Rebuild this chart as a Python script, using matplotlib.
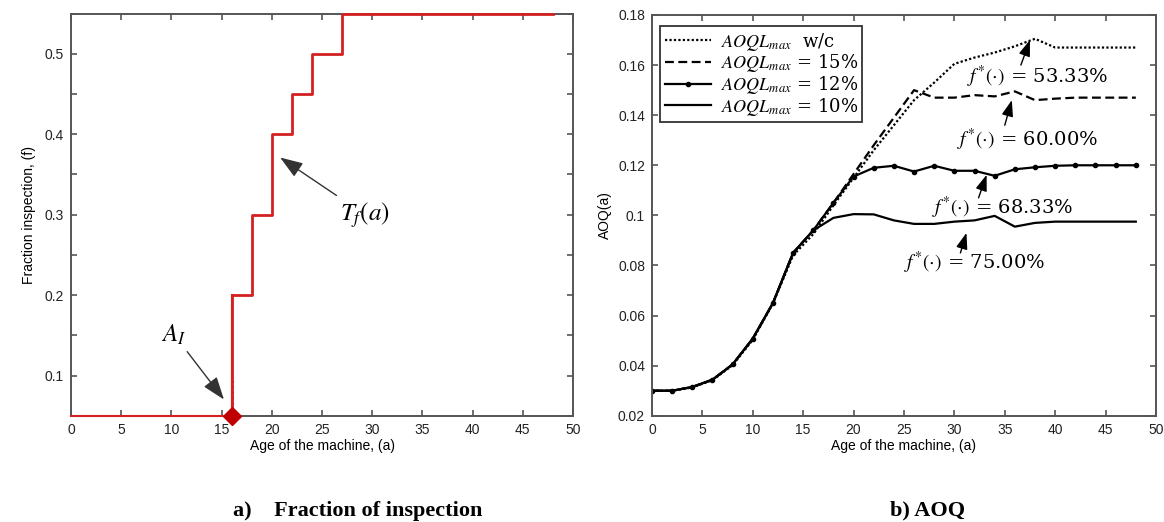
import numpy as np
import matplotlib.pyplot as plt

plt.rcParams['font.family'] = ['Liberation Sans', 'DejaVu Sans']
plt.rcParams['mathtext.fontset'] = 'stix'

# panel a) step data
step_age = [0, 16, 18, 20, 22, 24, 27, 48]
step_frac = [0.05, 0.20, 0.30, 0.40, 0.45, 0.50, 0.55, 0.55]
a_i = 16

# panel b) AOQ curves
ages = np.arange(0, 49, 2)
aoq_wc = [0.030, 0.030, 0.0313, 0.0342, 0.0402, 0.0503, 0.0648, 0.0840, 0.0925,
          0.104, 0.115, 0.126, 0.136, 0.146, 0.153, 0.1605, 0.163, 0.165,
          0.1675, 0.1705, 0.167, 0.167, 0.167, 0.167, 0.167]
aoq_15 = [0.030, 0.030, 0.0315, 0.0344, 0.0405, 0.0508, 0.065, 0.085, 0.094,
          0.105, 0.1165, 0.128, 0.139, 0.150, 0.147, 0.147, 0.148, 0.1475,
          0.1495, 0.146, 0.1466, 0.147, 0.147, 0.147, 0.147]
aoq_12 = [0.030, 0.030, 0.0315, 0.0344, 0.0405, 0.0508, 0.065, 0.085, 0.094,
          0.105, 0.1155, 0.119, 0.1198, 0.1175, 0.1198, 0.1178, 0.1178, 0.1158,
          0.1184, 0.1192, 0.1198, 0.120, 0.120, 0.120, 0.120]
aoq_10 = [0.030, 0.030, 0.0315, 0.0344, 0.0405, 0.0508, 0.065, 0.085, 0.094,
          0.099, 0.1005, 0.1004, 0.098, 0.0966, 0.0966, 0.0975, 0.098, 0.0998,
          0.0955, 0.097, 0.0975, 0.0975, 0.0975, 0.0975, 0.0975]
legend_labels = [r'$AOQL_{max}$  w/c', r'$AOQL_{max}$ = 15%',
                 r'$AOQL_{max}$ = 12%', r'$AOQL_{max}$ = 10%']
fstar_labels = ['53.33%', '60.00%', '68.33%', '75.00%']

fig = plt.figure(figsize=(11.64, 5.22), dpi=100)
ax1 = fig.add_axes([0.061, 0.2035, 0.4313, 0.7705])
ax2 = fig.add_axes([0.5601, 0.2035, 0.433, 0.7678])

ARROW = '-|>,head_length=0.7,head_width=0.25'

def style_axes(ax):
    for s in ax.spines.values():
        s.set_color('#555555')
        s.set_linewidth(1.4)
    ax.tick_params(direction='in', top=True, right=True, length=4, width=1.2,
                   color='#555555', labelsize=10, labelcolor='#222222', pad=5)
    ax.set_xlim(0, 50)
    ax.set_xticks(np.arange(0, 51, 5))

# ---- panel a
style_axes(ax1)
ax1.set_ylim(0.05, 0.55)
yt = np.arange(0.05, 0.5501, 0.05)
ax1.set_yticks(yt)
ax1.set_yticklabels(['' if i % 2 == 0 else '%.1f' % v for i, v in enumerate(yt)])
ax1.plot(step_age[:2], step_frac[:2], drawstyle='steps-post', color='#d42020', lw=1.5,
         clip_on=False, zorder=3)
ax1.plot(step_age[1:], step_frac[1:], drawstyle='steps-post', color='#d42020', lw=2,
         clip_on=False, zorder=3)
ax1.plot([a_i, a_i], [step_frac[0], step_frac[1]], color='#d42020', lw=2, zorder=3)
ax1.plot([a_i + 0.15, a_i + 0.15], [0.05, 0.095], ':', color='#d42020', lw=1.5)
ax1.plot([a_i], [0.05], 'D', color='#c00000', ms=9, clip_on=False, zorder=4)
ax1.set_xlabel('Age of the machine, (a)', fontsize=10, labelpad=2)
ax1.set_ylabel('Fraction inspection, (f)', fontsize=10, labelpad=6)
ax1.annotate(r'$T_f(a)$', xy=(20.6, 0.373), xytext=(26.8, 0.30), fontsize=18,
             ha='left', va='center',
             arrowprops=dict(arrowstyle=ARROW, color='#333333', lw=1, mutation_scale=20,
                             facecolor='k'))
ax1.annotate(r'$A_I$', xy=(15.4, 0.0675), xytext=(9.0, 0.151), fontsize=18,
             ha='left', va='center',
             arrowprops=dict(arrowstyle=ARROW, color='#333333', lw=1, mutation_scale=20,
                             facecolor='k', shrinkA=2))

# ---- panel b
style_axes(ax2)
ax2.set_ylim(0.02, 0.18)
yt2 = np.arange(0.02, 0.1801, 0.02)
ax2.set_yticks(yt2)
ax2.set_yticklabels(['0.1' if abs(v - 0.1) < 1e-9 else '%.2f' % v for v in yt2])
ax2.plot(ages, aoq_wc, color='k', lw=1.6, linestyle=(0, (1, 1)), label=legend_labels[0])
ax2.plot(ages, aoq_15, color='k', lw=1.6, linestyle=(0, (4, 2)), label=legend_labels[1])
ax2.plot(ages, aoq_12, color='k', lw=1.6, marker='.', ms=6, label=legend_labels[2])
ax2.plot(ages, aoq_10, color='k', lw=1.6, label=legend_labels[3])
ax2.set_xlabel('Age of the machine, (a)', fontsize=10, labelpad=2)
ax2.set_ylabel('AOQ(a)', fontsize=10, labelpad=4)
leg = ax2.legend(loc='upper left', bbox_to_anchor=(0.016, 0.972), borderaxespad=0,
                 prop={'family': 'DejaVu Serif', 'size': 13},
                 handlelength=2.6, handletextpad=0.5, labelspacing=-0.02,
                 borderpad=0.25, fancybox=False, framealpha=1)
leg.get_frame().set_edgecolor('#333333')
leg.get_frame().set_linewidth(1.3)

heads = [(37.5, 0.170), (35.7, 0.146), (33.2, 0.1162), (31.2, 0.093)]
tails = [(36.6, 0.160), (35.0, 0.136), (32.4, 0.107), (30.6, 0.085)]
txt = [(38.2, 0.1553), (37.3, 0.130), (34.8, 0.103), (32.0, 0.081)]
for lab, h, t, p in zip(fstar_labels, heads, tails, txt):
    ax2.annotate('', xy=h, xytext=t,
                 arrowprops=dict(arrowstyle=ARROW, color='k', lw=1, mutation_scale=14,
                                 shrinkA=0, shrinkB=0))
    ax2.text(p[0], p[1], r'$f^{*}(\cdot)$ = ' + lab, fontsize=14, ha='center', va='center',
             family='DejaVu Serif')

fig.text(0.307, 0.012, 'a)    Fraction of inspection', fontsize=16, fontweight='bold',
         family='Liberation Serif', ha='center', va='baseline')
fig.text(0.797, 0.012, 'b) AOQ', fontsize=16, fontweight='bold',
         family='Liberation Serif', ha='center', va='baseline')

fig.savefig('out.png', dpi=100)
